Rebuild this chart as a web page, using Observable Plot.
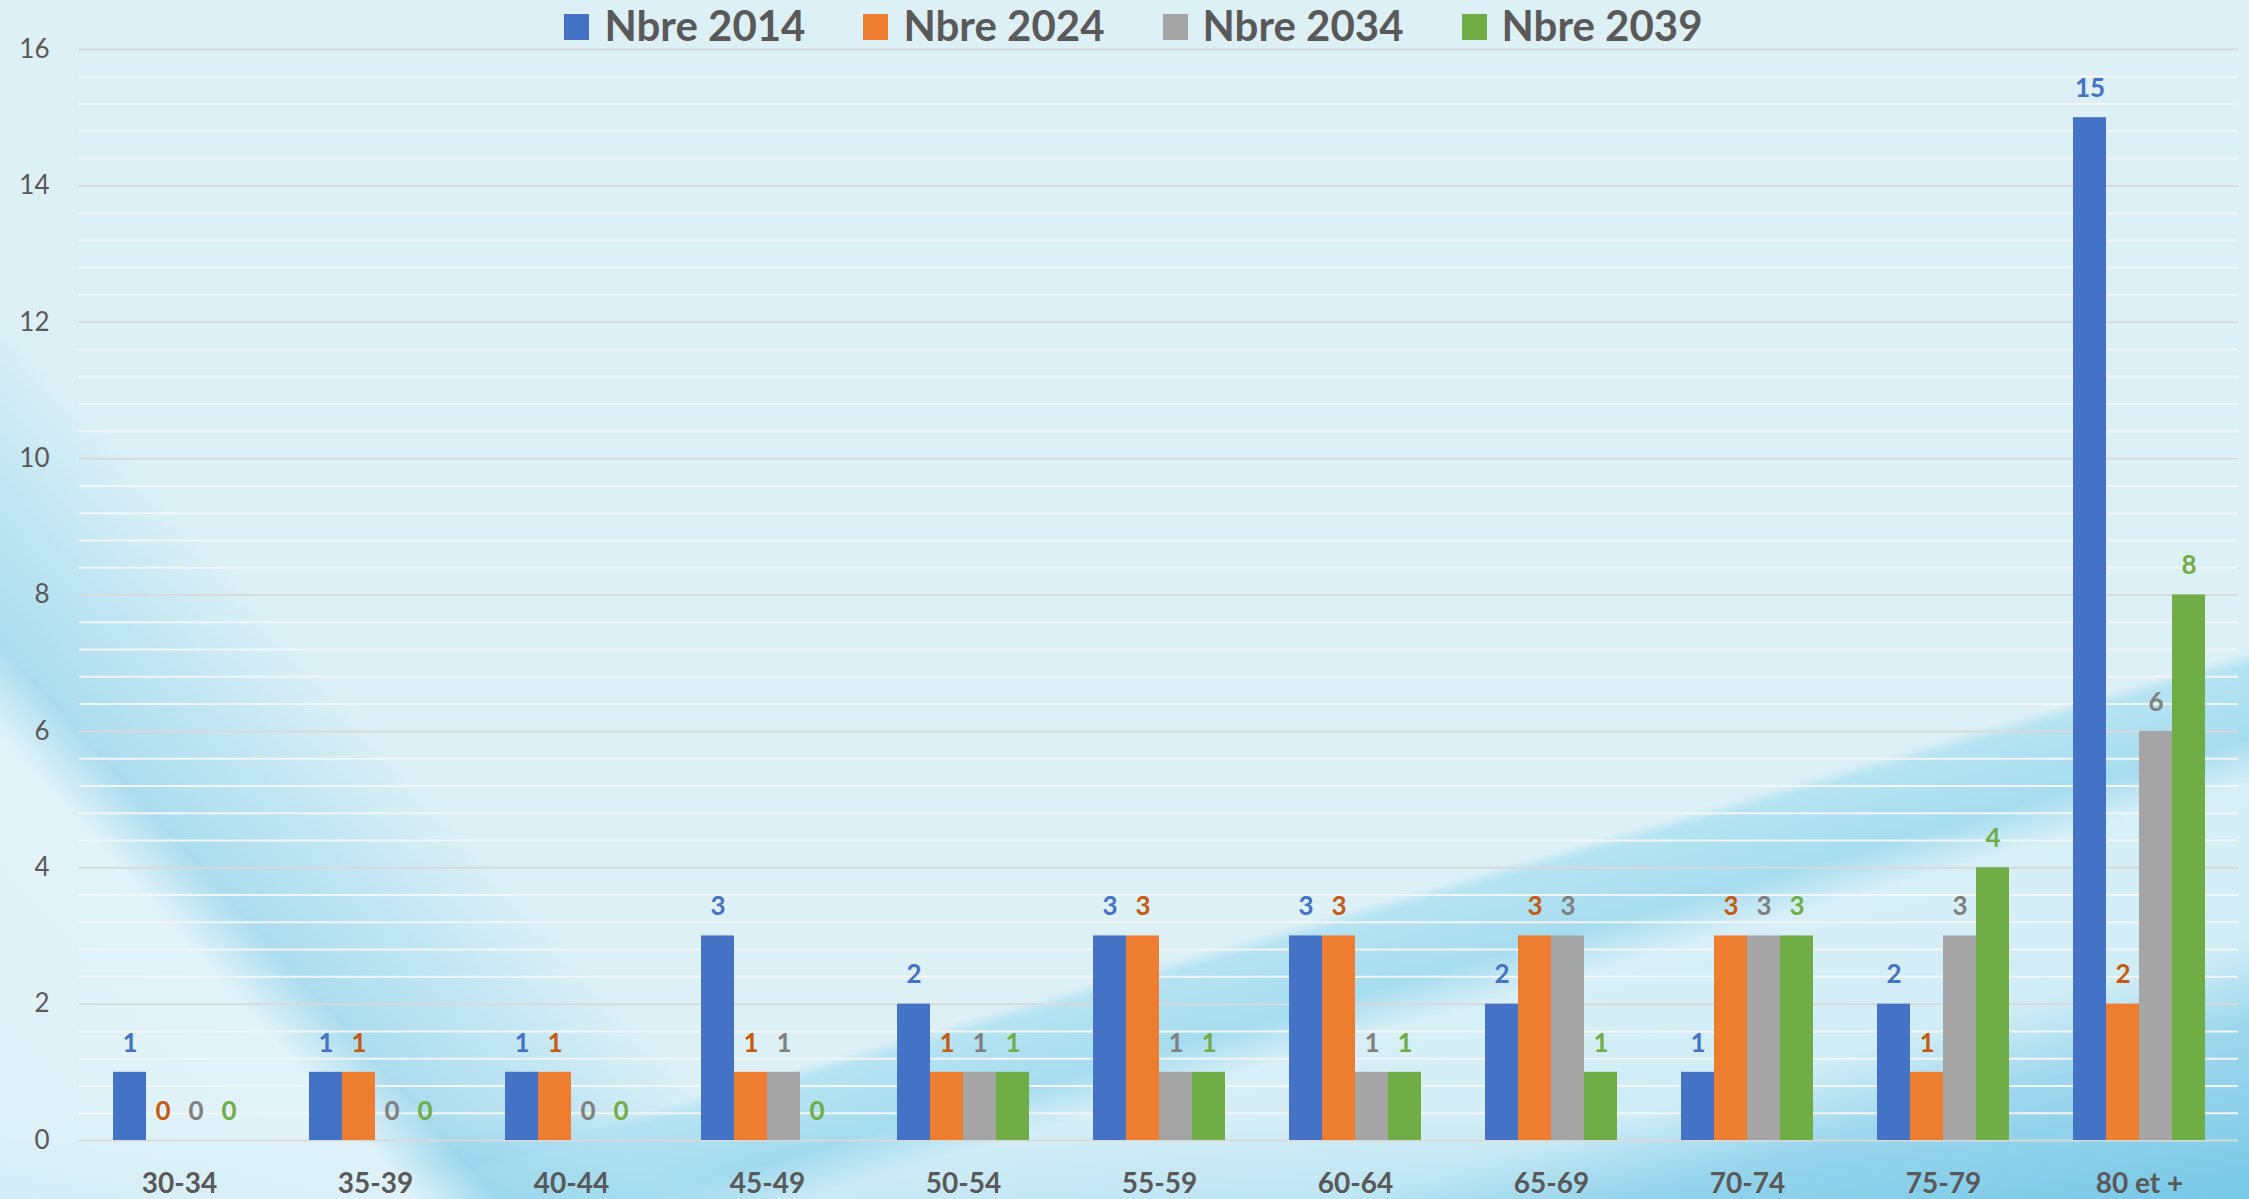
<!DOCTYPE html>
<html>
<head>
<meta charset="utf-8">
<script src="https://cdn.jsdelivr.net/npm/d3@7"></script>
<script src="https://cdn.jsdelivr.net/npm/@observablehq/plot@0.6"></script>
<style>
html, body { margin: 0; padding: 0; }
body { width: 2249px; height: 1199px; overflow: hidden; }
#wrap {
  position: relative; width: 2249px; height: 1199px;
  background:
    linear-gradient(228deg, rgba(0,0,0,0) 76%, rgba(175,224,241,0.55) 80%, rgba(155,214,236,0.75) 85%, rgba(226,243,249,0.95) 87.5%, rgba(222,242,249,0.9) 100%),
    linear-gradient(164deg, rgba(0,0,0,0) 70.3%, rgba(178,226,242,0.9) 71%, rgba(160,218,238,0.9) 75%, rgba(215,239,247,0.85) 77.5%, rgba(205,236,246,0.8) 86%, rgba(150,212,236,0.9) 90.5%, rgba(120,200,230,0.95) 100%),
    linear-gradient(180deg, rgba(0,0,0,0) 93%, rgba(130,204,232,0.75) 97%, rgba(110,195,228,0.9) 100%),
    #ddf0f6;
}
#wrap svg { position: absolute; left: 0; top: 0; }
#legend {
  position: absolute; top: 4px; left: 0; width: 2249px; box-sizing: border-box; padding-left: 18px;
  display: flex; justify-content: center;
  font-family: Lato, sans-serif; font-weight: 700; font-size: 42px; line-height: 42px; color: #595959;
  z-index: 3;
}
.item { display: flex; align-items: flex-start; margin: 0 29px; }
.sw { width: 25px; height: 26px; margin-top: 10px; margin-right: 15px; }
</style>
</head>
<body>
<div id="wrap"><div id="legend"></div></div>
<script>
// ---- data ----
const categories = ["30-34", "35-39", "40-44", "45-49", "50-54", "55-59", "60-64", "65-69", "70-74", "75-79", "80 et +"];
const seriesNames = ["Nbre 2014", "Nbre 2024", "Nbre 2034", "Nbre 2039"];
const nbre2014 = [1, 1, 1, 3, 2, 3, 3, 2, 1, 2, 15];
const nbre2024 = [0, 1, 1, 1, 1, 3, 3, 3, 3, 1, 2];
const nbre2034 = [0, 0, 0, 1, 1, 1, 1, 3, 3, 3, 6];
const nbre2039 = [0, 0, 0, 0, 1, 1, 1, 1, 3, 4, 8];
const yTicks = [0, 2, 4, 6, 8, 10, 12, 14, 16];

const barColors = ["#4472c4", "#ed7d31", "#a5a5a5", "#70ad47"];
const labelColors = ["#4472c4", "#c55a11", "#808080", "#70ad47"];

const values = [nbre2014, nbre2024, nbre2034, nbre2039];
const rows = [];
categories.forEach((c, i) => seriesNames.forEach((s, j) => rows.push({cat: c, series: s, value: values[j][i]})));
const minorTicks = d3.range(0, 16.001, 0.4).filter(v => Math.abs(v / 2 - Math.round(v / 2)) > 1e-6);

const W = 2249, H = 1199;
const M = {marginLeft: 79, marginRight: 11, marginTop: 49, marginBottom: 59};

// legend
const legend = document.getElementById("legend");
seriesNames.forEach((s, j) => {
  const it = document.createElement("div");
  it.className = "item";
  const sw = document.createElement("div");
  sw.className = "sw";
  sw.style.background = barColors[j];
  const tx = document.createElement("span");
  tx.textContent = s;
  it.appendChild(sw); it.appendChild(tx);
  legend.appendChild(it);
});

// grid layer
const grid = Plot.plot({
  width: W, height: H, ...M,
  style: {background: "transparent", fontFamily: "Lato, sans-serif"},
  y: {domain: [0, 16]},
  marks: [
    Plot.ruleY(minorTicks, {stroke: "#f3f5f6", strokeWidth: 2}),
    Plot.ruleY(yTicks, {stroke: "#d9d9d9", strokeWidth: 2}),
    Plot.axisY({ticks: yTicks, tickSize: 0, tickPadding: 30, fontSize: 26, color: "#595959", label: null})
  ]
});

// bars layer
const chart = Plot.plot({
  width: W, height: H, ...M,
  style: {background: "transparent", fontFamily: "Lato, sans-serif", overflow: "visible"},
  fx: {domain: categories, paddingInner: 0.328, paddingOuter: 0.164},
  x: {domain: seriesNames, padding: 0, axis: null},
  y: {domain: [0, 16], axis: null},
  color: {domain: seriesNames, range: barColors},
  marks: [
    Plot.barY(rows, {fx: "cat", x: "series", y: "value", fill: "series"}),
    ...seriesNames.map((s, j) => Plot.text(rows.filter(r => r.series === s), {
      fx: "cat", x: "series", y: "value", text: d => String(d.value),
      fill: labelColors[j], dy: -29, fontSize: 26, fontWeight: "bold"
    })),
    Plot.axisFx({anchor: "bottom", tickSize: 0, tickPadding: 33, fontSize: 28, fontWeight: "bold", color: "#595959", label: null})
  ]
});

const wrap = document.getElementById("wrap");
wrap.appendChild(grid);
wrap.appendChild(chart);
</script>
</body>
</html>
